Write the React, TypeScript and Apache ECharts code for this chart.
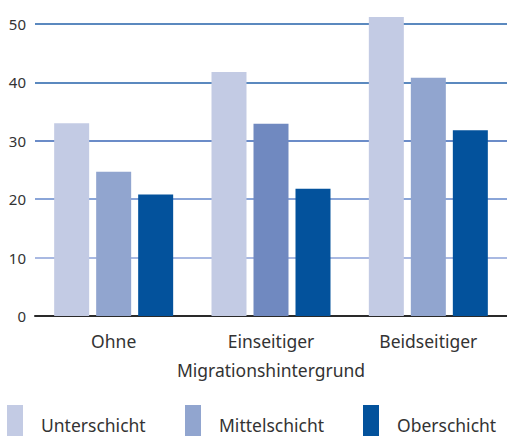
import React, { useEffect, useRef } from "react";
import * as echarts from "echarts";

const categories = ["Ohne", "Einseitiger", "Beidseitiger"];
const seriesNames = ["Unterschicht", "Mittelschicht", "Oberschicht"];
const unterschicht = [33.0, 41.8, 51.2];
const mittelschicht = [24.7, 32.9, 40.8];
const oberschicht = [20.8, 21.8, 31.8];
const yTicks = [0, 10, 20, 30, 40, 50];
const axisTitle = "Migrationshintergrund";

const colors = ["#c3cbe4", "#91a5cf", "#03529c"];
const middleAccent = "#7089c0";
const gridColors = ["#3a3a3a", "#a9b9e2", "#8aa5d8", "#6b8cc8", "#5b89bf", "#5b89bf"];

export default function App() {
  const ref = useRef<HTMLDivElement>(null);
  useEffect(() => {
    if (!ref.current) return;
    const chart = echarts.init(ref.current, undefined, { renderer: "svg" });
    const font = "Noto Sans";
    const legendPositions = [7, 185, 363];
    chart.setOption({
      animation: false,
      textStyle: { fontFamily: font },
      grid: { left: 35, top: 24, width: 479, height: 292, containLabel: false },
      legend: seriesNames.map((n, i) => ({
        data: [n],
        left: legendPositions[i],
        top: 405,
        padding: 0,
        itemWidth: 16,
        itemHeight: 40,
        icon: "rect",
        selectedMode: false,
        textStyle: { fontFamily: font, fontSize: 17.5, color: "#333", padding: [0, 0, 0, 13] },
      })),
      xAxis: {
        type: "category",
        data: categories,
        name: axisTitle,
        nameLocation: "middle",
        nameGap: 45,
        nameTextStyle: { fontFamily: font, fontSize: 17.5, color: "#333" },
        axisLine: { lineStyle: { color: "#2a2a2a", width: 2 } },
        axisTick: { show: false },
        axisLabel: { fontFamily: font, fontSize: 17.5, color: "#333", margin: 16 },
      },
      yAxis: {
        type: "value",
        min: 0,
        max: 50,
        interval: 10,
        axisLine: { show: false },
        axisTick: { show: false },
        axisLabel: {
          fontFamily: font,
          fontSize: 15,
          color: "#333",
          margin: 9,
          padding: [0, 0, 6, 0],
          formatter: (v: number) => (yTicks.includes(v) ? String(v) : ""),
        },
        splitLine: { lineStyle: { color: gridColors, width: 2 } },
      },
      series: [
        {
          name: seriesNames[0],
          type: "bar",
          data: unterschicht,
          barWidth: 35,
          barGap: "20%",
          clip: false,
          itemStyle: { color: colors[0] },
        },
        {
          name: seriesNames[1],
          type: "bar",
          data: mittelschicht.map((v, i) =>
            i === 1 ? { value: v, itemStyle: { color: middleAccent } } : v
          ),
          barWidth: 35,
          barGap: "20%",
          clip: false,
          itemStyle: { color: colors[1] },
        },
        {
          name: seriesNames[2],
          type: "bar",
          data: oberschicht,
          barWidth: 35,
          barGap: "20%",
          clip: false,
          itemStyle: { color: colors[2] },
        },
      ],
    });
    return () => chart.dispose();
  }, []);
  return (
    <div
      ref={ref}
      style={{ position: "absolute", left: 0, top: 0, width: 507, height: 436, background: "#fff" }}
    />
  );
}
